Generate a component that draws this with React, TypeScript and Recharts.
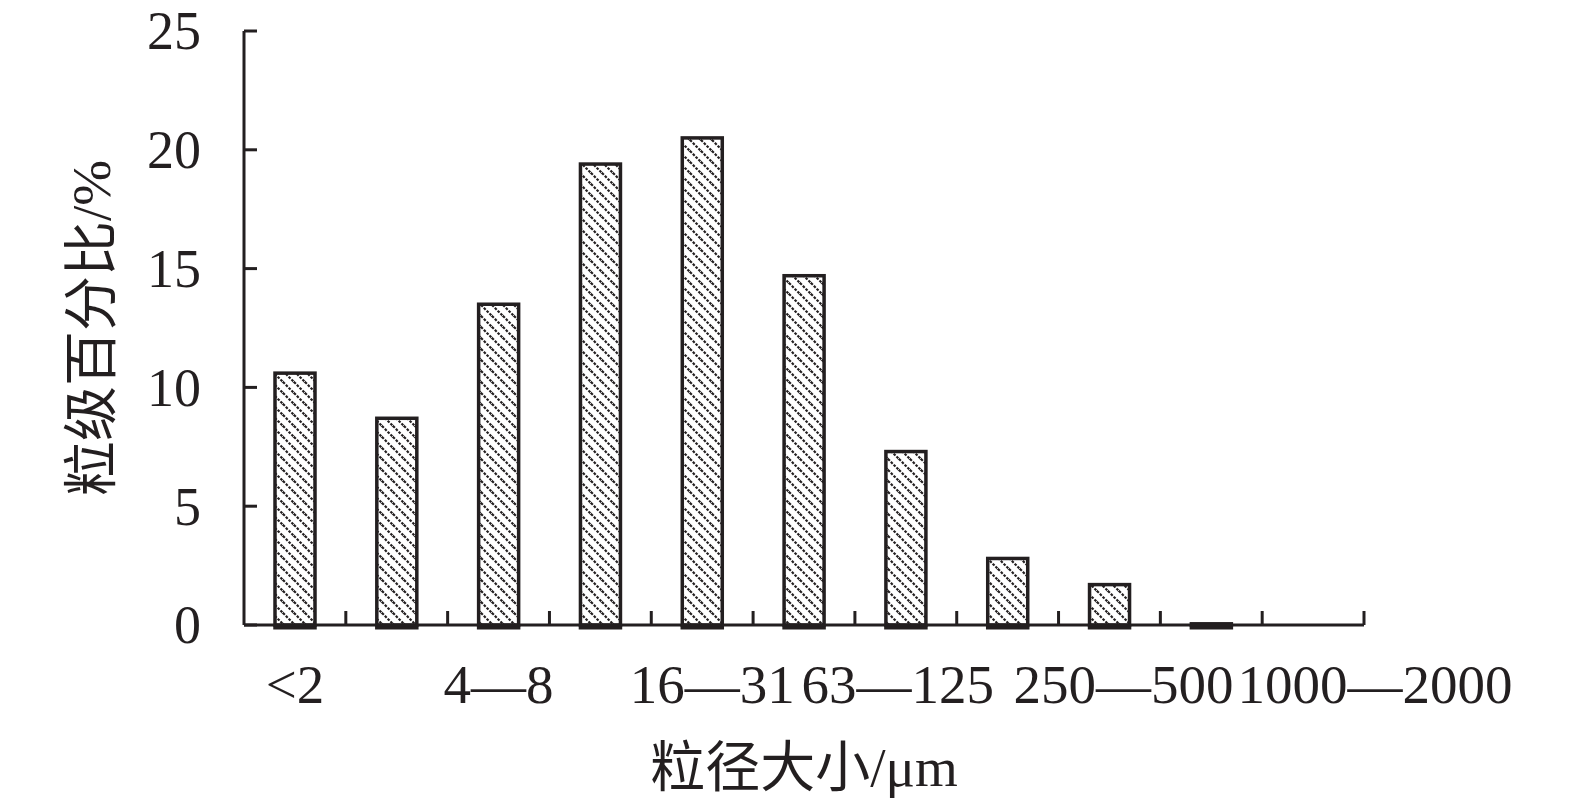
import React from 'react';
import { BarChart, Bar, XAxis, YAxis, Label } from 'recharts';

const categories = ['<2', '2—4', '4—8', '8—16', '16—31', '31—63', '63—125', '125—250', '250—500', '500—1000', '1000—2000'];
const percentages = [10.6, 8.7, 13.5, 19.4, 20.5, 14.7, 7.3, 2.8, 1.7, 0.05, 0];
const yTicks = [0, 5, 10, 15, 20, 25];
const shownLabels = ['<2', '4—8', '16—31', '63—125', '250—500', '1000—2000'];

const data = categories.map((name, i) => ({ name, value: percentages[i] }));

const W = 1559;
const H = 791;
const MARGIN = { top: 23, right: 203, bottom: 0, left: 0 };
const Y_W = 236;
const X_H = 174;
const PLOT_W = W - MARGIN.right - MARGIN.left - Y_W;
const INK = '#231f20';
const FONT = "'Liberation Serif', 'Times New Roman', 'Noto Sans CJK SC', serif";

// small horizontal nudges of individual tick labels, as set in the original figure
const labelNudge: Record<string, number> = { '16—31': 10, '63—125': -8, '250—500': 14, '1000—2000': 62 };

const YTick = (props: any) => {
  const { x, y, payload } = props;
  return (
    <g>
      <line x1={x} x2={x + 13} y1={y} y2={y} stroke={INK} strokeWidth={3} />
      <text x={x - 43} y={y} dy="0.34em" textAnchor="end" fontSize={54} fontFamily={FONT} fill={INK}>
        {payload.value}
      </text>
    </g>
  );
};

const XTick = (props: any) => {
  const { x, y, payload, index } = props;
  const n = categories.length;
  const half = PLOT_W / n / 2;
  const last = index === n - 1;
  const show = shownLabels.includes(payload.value);
  const dx = labelNudge[payload.value] || 0;
  return (
    <g>
      {index > 0 && <line x1={x - half} x2={x - half} y1={y} y2={y - 14} stroke={INK} strokeWidth={3} />}
      {last && <line x1={x + half} x2={x + half} y1={y} y2={y - 14} stroke={INK} strokeWidth={3} />}
      {show && (
        <text x={x + dx} y={y + 78} textAnchor="middle" fontSize={55} fontFamily={FONT} fill={INK}>
          {payload.value}
        </text>
      )}
    </g>
  );
};

const HatchBar = (props: any) => {
  const { x, y, width, height } = props;
  if (!width || !(height > 0)) return null;
  return (
    <g>
      <rect x={x} y={y} width={width} height={height} fill="url(#hatch)" stroke={INK} strokeWidth={3.5} />
      <line x1={x - 1.75} x2={x + width + 1.75} y1={y + height + 2} y2={y + height + 2} stroke={INK} strokeWidth={5} />
    </g>
  );
};

const YLabel = (props: any) => {
  const vb = props.viewBox || { x: 0, y: MARGIN.top, width: Y_W, height: 594 };
  const cx = vb.x + 83;
  const cy = vb.y + vb.height / 2;
  return (
    <text
      x={cx}
      y={cy}
      transform={`rotate(-90, ${cx}, ${cy})`}
      textAnchor="middle"
      dominantBaseline="central"
      fontSize={55}
      fontFamily={FONT}
      fill={INK}
    >
      粒级百分比/%
    </text>
  );
};

const XLabel = (props: any) => {
  const vb = props.viewBox || { x: Y_W, y: H - X_H, width: PLOT_W, height: X_H };
  return (
    <text
      x={vb.x + vb.width / 2}
      y={vb.y + 161}
      textAnchor="middle"
      fontSize={55}
      fontFamily={FONT}
      fill={INK}
    >
      粒径大小/μm
    </text>
  );
};

export default function App() {
  return (
    <div style={{ width: W, height: H, background: '#fff' }}>
      <BarChart width={W} height={H} data={data} margin={MARGIN}>
        <defs>
          <pattern id="hatch" patternUnits="userSpaceOnUse" width={11} height={11}>
            <rect width={11} height={11} fill="#fff" />
            <line x1={0} y1={0} x2={11} y2={11} stroke={INK} strokeWidth={2.2} strokeDasharray="2.6 1.4" />
            <line x1={-2} y1={9} x2={2} y2={13} stroke={INK} strokeWidth={2.2} />
            <line x1={9} y1={-2} x2={13} y2={2} stroke={INK} strokeWidth={2.2} />
          </pattern>
        </defs>
        <XAxis
          dataKey="name"
          height={X_H}
          interval={0}
          tickSize={0}
          tickMargin={0}
          tickLine={false}
          axisLine={{ stroke: INK, strokeWidth: 3 }}
          tick={<XTick />}
        >
          <Label content={<XLabel />} />
        </XAxis>
        <YAxis
          width={Y_W}
          domain={[0, 25]}
          ticks={yTicks}
          interval={0}
          tickSize={0}
          tickMargin={0}
          tickLine={false}
          axisLine={{ stroke: INK, strokeWidth: 3 }}
          tick={<YTick />}
        >
          <Label content={<YLabel />} />
        </YAxis>
        <Bar
          dataKey="value"
          barSize={40}
          fill="url(#hatch)"
          shape={<HatchBar />}
          isAnimationActive={false}
        />
      </BarChart>
    </div>
  );
}
